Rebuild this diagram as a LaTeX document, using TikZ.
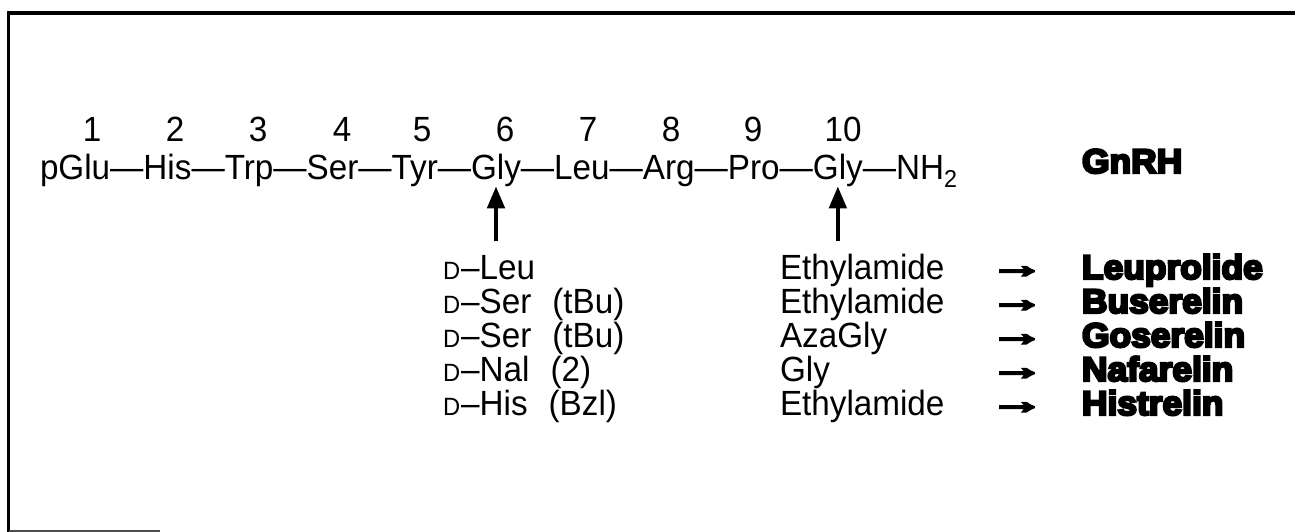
\documentclass[tikz,border=0pt]{standalone}
\usepackage{fontspec}
\usepackage{graphicx}
\setmainfont{Liberation Sans}[FakeStretch=0.95]
\newfontfamily\heavyfont{Liberation Sans}[BoldFeatures={FakeBold=7, FakeStretch=1.04}]
\usetikzlibrary{positioning,arrows.meta}

\tikzset{
  txt/.style={inner sep=0pt, outer sep=0pt, font=\fontsize{35}{42}\selectfont},
  num/.style={txt, anchor=base},
  res/.style={txt, base right=0pt of #1},
  drug/.style={inner sep=0pt, outer sep=0pt, anchor=base west,
    font=\fontsize{34}{40}\selectfont\heavyfont\bfseries},
  yields/.style={inner sep=0pt, outer sep=0pt, anchor=base,
    font=\fontsize{26}{30}\selectfont\heavyfont\bfseries},
  col/.style={txt, anchor=base west},
  uparrow/.style={line width=4.5pt, -{Triangle[width=17pt,length=22pt]}},
  frame/.style={line width=4pt}
}
\newcommand{\dform}{{\fontsize{25}{30}\selectfont D}\hspace{1pt}--}
\newcommand{\yieldsign}{\scalebox{2.0}[1.35]{→}}

\begin{document}
\begin{tikzpicture}[x=1pt, y=-1pt]
  \useasboundingbox (0,0) rectangle (1295,532);

  % open frame: top and left rules
  \draw[frame] (8.5,13) -- (1295,13);
  \draw[frame, line width=3.5pt] (8.5,11) -- (8.5,532);
  \draw[black!70, line width=1.5pt] (8.5,531) -- (160,531);

  % residue numbers
  \foreach \n/\x in {1/92, 2/175, 3/258, 4/342, 5/422, 6/505, 7/588, 8/671, 9/753, 10/843}
    \node[num] (n\n) at (\x,142) {\n};

  % GnRH sequence
  \node[txt, anchor=base west] (r1) at (40,179) {pGlu};
  \node[res=r1] (d1) {\textemdash};
  \node[res=d1] (r2) {His};
  \node[res=r2] (d2) {\textemdash};
  \node[res=d2] (r3) {Trp};
  \node[res=r3] (d3) {\textemdash};
  \node[res=d3] (r4) {Ser};
  \node[res=r4] (d4) {\textemdash};
  \node[res=d4] (r5) {Tyr};
  \node[res=r5] (d5) {\textemdash};
  \node[res=d5] (r6) {Gly};
  \node[res=r6] (d6) {\textemdash};
  \node[res=d6] (r7) {Leu};
  \node[res=r7] (d7) {\textemdash};
  \node[res=d7] (r8) {Arg};
  \node[res=r8] (d8) {\textemdash};
  \node[res=d8] (r9) {Pro};
  \node[res=r9] (d9) {\textemdash};
  \node[res=d9] (r10) {Gly};
  \node[res=r10] (d10) {\textemdash};
  \node[res=d10] (r11) {NH\textsubscript{2}};

  \node[drug] (gnrh) at (1082,173) {GnRH};

  % substitution arrows at positions 6 and 10
  \coordinate (a6) at ([yshift=-55pt]r6.south);
  \coordinate (a10) at ([yshift=-55pt]r10.south);
  \draw[uparrow] (a6) -- (r6.south);
  \draw[uparrow] (a10) -- (r10.south);

  % analogue table
  \foreach \i/\y/\six/\ten/\name in {
      1/279/Leu/Ethylamide/Leuprolide,
      2/313/Ser\hspace{0.6em}(tBu)/Ethylamide/Buserelin,
      3/347/Ser\hspace{0.6em}(tBu)/AzaGly/Goserelin,
      4/381/Nal\hspace{0.6em}(2)/Gly/Nafarelin,
      5/415/His\hspace{0.6em}(Bzl)/Ethylamide/Histrelin} {
    \node[col] (p6-\i) at (443,\y) {\dform\six};
    \node[col] (p10-\i) at (780,\y) {\ten};
    \node[yields] (y\i) at (1017,{\y-2}) {\yieldsign};
    \node[drug] (drug\i) at (1082,\y) {\name};
  }
\end{tikzpicture}
\end{document}
